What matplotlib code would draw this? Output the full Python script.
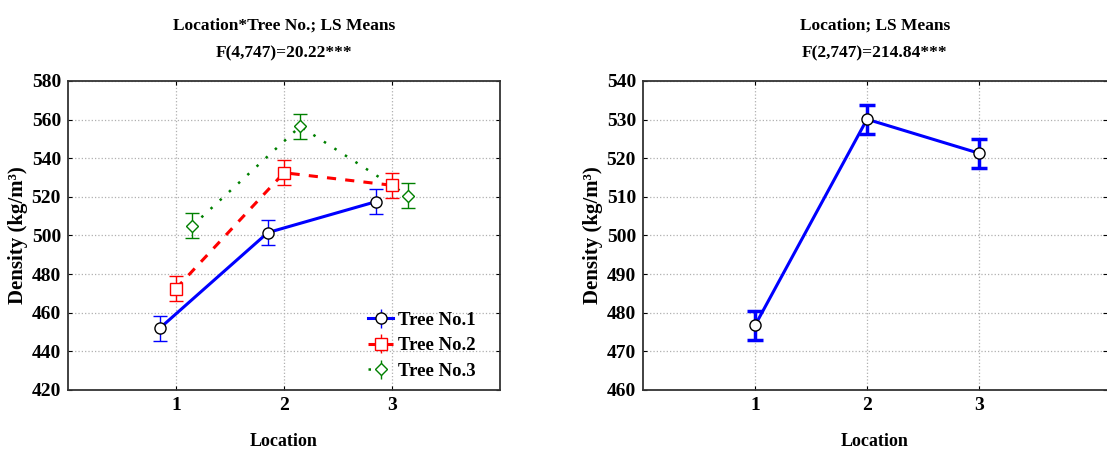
import matplotlib
matplotlib.use('Agg')
import matplotlib.pyplot as plt

plt.rcParams['font.family'] = 'Liberation Serif'
plt.rcParams['font.weight'] = 'bold'
plt.rcParams['axes.titleweight'] = 'bold'
plt.rcParams['axes.labelweight'] = 'bold'

# Location*Tree No. interaction LS means
locations = [1, 2, 3]
tree_labels = ['Tree No.1', 'Tree No.2', 'Tree No.3']
tree_means = [
    [452.0, 501.5, 517.5],
    [472.5, 532.5, 526.0],
    [505.0, 556.5, 520.5],
]
tree_err = [
    [6.5, 6.5, 6.5],
    [6.5, 6.5, 6.5],
    [6.5, 6.5, 6.5],
]

# Location main effect LS means
loc_means = [476.7, 530.1, 521.3]
loc_err = [3.8, 3.8, 3.8]

fig = plt.figure(figsize=(11.07, 4.53), dpi=100)
W, H = 1107, 453
ax1 = fig.add_axes([68 / W, 1 - 390 / H, (500 - 68) / W, (390 - 81) / H])
ax2 = fig.add_axes([643 / W, 1 - 390 / H, (1107 - 643) / W, (390 - 81) / H])

colors = ['#0000ff', '#ff0000', '#008000']
markers = ['o', 's', 'D']
styles = ['-', (0, (3, 3)), (0, (1, 4))]
widths = [2.2, 2.2, 1.8]
offsets = [-0.15, 0.0, 0.15]
msizes = [8, 8, 6.5]

handles = []
for i in range(3):
    xs = [x + offsets[i] for x in locations]
    ax1.plot(xs, tree_means[i], color=colors[i], linestyle=styles[i], lw=widths[i], zorder=2)
    ax1.errorbar(xs, tree_means[i], yerr=tree_err[i], fmt='none', ecolor=colors[i],
                 elinewidth=1.0, capsize=5, capthick=1.0, zorder=3)
    mec = 'black' if i == 0 else colors[i]
    ax1.plot(xs, tree_means[i], linestyle='none', marker=markers[i], ms=msizes[i],
             mfc='white', mec=mec, mew=1.0, zorder=4)
    h = ax1.errorbar([], [], yerr=[], color=colors[i], linestyle=styles[i], lw=widths[i],
                     marker=markers[i], ms=msizes[i], mfc='white', mec=mec,
                     capsize=6, capthick=2.5, elinewidth=1.0)
    handles.append(h)

ax1.legend(handles, tree_labels, loc='lower right', bbox_to_anchor=(0.975, -0.01),
           frameon=False, fontsize=13.5, handlelength=1.3, handletextpad=0.3,
           borderaxespad=0.3, labelspacing=0.45)

ax2.plot(locations, loc_means, color='#0000ff', lw=2.2, zorder=2)
ax2.errorbar(locations, loc_means, yerr=loc_err, fmt='none', ecolor='#0000ff',
             elinewidth=2.5, capsize=6, capthick=2.5, zorder=3)
ax2.plot(locations, loc_means, linestyle='none', marker='o', ms=8, mfc='white',
         mec='black', mew=1.0, zorder=4)

ax1.set_ylim(420, 580)
ax1.set_yticks(range(420, 581, 20))
ax2.set_ylim(460, 540)
ax2.set_yticks(range(460, 541, 10))
ax2.spines['right'].set_visible(False)

for ax in (ax1, ax2):
    ax.set_xlim(0, 4)
    ax.set_xticks(locations)
    ax.grid(True, color='#b0b0b0', linestyle=':', lw=0.9)
    ax.set_axisbelow(True)
    ax.tick_params(direction='in', length=3, top=True, right=True, labelsize=14, pad=5)
    for s in ax.spines.values():
        s.set_linewidth(1.3)
        s.set_color('#333333')
    ax.set_xlabel('Location', fontsize=13, labelpad=14)
    ax.set_ylabel('Density (kg/m³)', fontsize=15, labelpad=3)
ax2.set_xlim(0, (1107 - 643) / 112)

ax1.set_title('Location*Tree No.; LS Means\nF(4,747)=20.22***', fontsize=12.5, pad=17, linespacing=2.0)
ax2.set_title('Location; LS Means\nF(2,747)=214.84***', fontsize=12.5, pad=17, linespacing=2.0)

fig.savefig('out.png', dpi=100)
